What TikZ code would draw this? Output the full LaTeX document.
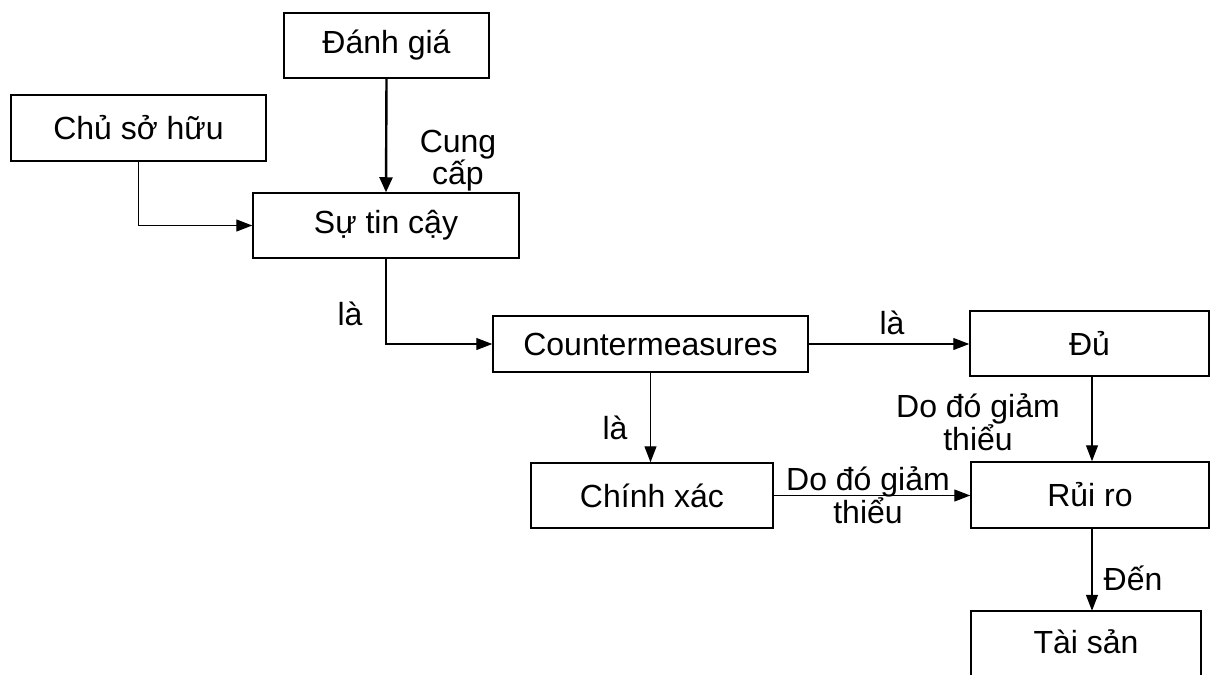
\documentclass[tikz,border=0pt]{standalone}
\usepackage{fontspec}
\setmainfont{Liberation Sans}
\usetikzlibrary{arrows.meta,calc}
\begin{document}
\begin{tikzpicture}[x=1pt,y=-1pt,
  txt/.style={font=\fontsize{32}{28}\selectfont},
  boxline/.style={line width=1.5pt},
  box/.style={draw, boxline, txt, inner sep=0pt},
  lbl/.style={txt, align=center, inner sep=0pt},
  conn/.style={line width=1.3pt, -{Triangle[length=16pt,width=12pt]}},
  thickconn/.style={line width=2.4pt, -{Triangle[length=15pt,width=13pt]}}]
\clip (0,0) rectangle (1211,675);
\fill[white] (0,0) rectangle (1211,675);
% boxes
\node[box, minimum width=205pt, minimum height=65pt] (dg)  at (386.5,45.5) {Đánh giá};
\node[box, minimum width=255pt, minimum height=66pt] (csh) at (138.5,128) {Chủ sở hữu};
\node[box, minimum width=266pt, minimum height=65pt] (stc) at (386,225.5) {Sự tin cậy};
\node[box, minimum width=315pt, minimum height=56pt] (cm)  at (650.5,344) {Countermeasures};
\node[box, minimum width=239pt, minimum height=65pt] (du)  at (1089.5,343.5) {Đủ};
\node[box, minimum width=242pt, minimum height=65pt] (cx)  at (652,495.5) {Chính xác};
\node[box, minimum width=238pt, minimum height=66pt] (rr)  at (1090,495) {Rủi ro};
\node[lbl, minimum width=230pt, minimum height=62pt] (ts) at (1086,642) {Tài sản};
\draw[boxline] ($(ts.south west)+(0,30)$) |- (ts.north east) -- ($(ts.south east)+(0,30)$);
% connectors
\draw[thickconn] (dg.south) -- (stc.north);
\draw[conn] (csh.south) |- (stc.west);
\draw[conn] (stc.south) |- (cm.west);
\draw[conn] (cm.east) -- (du.west |- cm.east);
\draw[conn] (cm.south) -- (cm.south |- cx.north);
\draw[conn] ($(du.south)+(2.5,0)$) -- ($(du.south |- rr.north)+(2.5,0)$);
\draw[conn] (cx.east) -- (rr.west |- cx.east);
\draw[conn] ($(rr.south)+(2,0)$) -- ($(rr.south |- ts.north)+(2,0)$);
% labels
\node[lbl] (l1) at (458,161) {Cung\\cấp};
\node[lbl] (l2) at (350,314) {là};
\node[lbl] (l3) at (892,323) {là};
\node[lbl] (l4) at (615,428) {là};
\node[lbl] (l5) at (978,422) {Do đó giảm\\thiểu};
\node[lbl] (l6) at (868,495) {Do đó giảm\\thiểu};
\node[lbl] (l7) at (1133,578) {Đến};
\end{tikzpicture}
\end{document}
